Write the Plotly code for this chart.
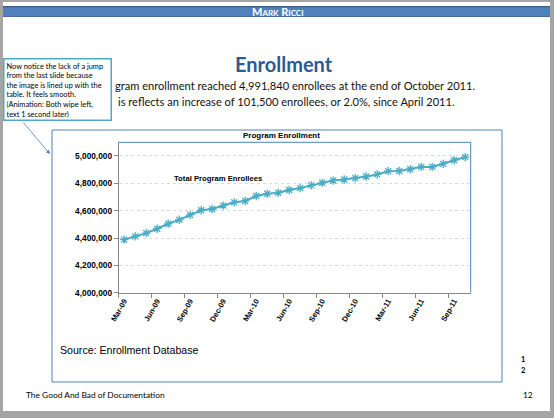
import plotly.graph_objects as go

# slide size in pixels
W, H = 554, 418


def px(x):
    return x / W


def py(y):
    return 1 - y / H


# monthly enrollment, Mar-09 .. Oct-11
months = [
    "Mar-09", "Apr-09", "May-09", "Jun-09", "Jul-09", "Aug-09", "Sep-09", "Oct-09",
    "Nov-09", "Dec-09", "Jan-10", "Feb-10", "Mar-10", "Apr-10", "May-10", "Jun-10",
    "Jul-10", "Aug-10", "Sep-10", "Oct-10", "Nov-10", "Dec-10", "Jan-11", "Feb-11",
    "Mar-11", "Apr-11", "May-11", "Jun-11", "Jul-11", "Aug-11", "Sep-11", "Oct-11",
]
enrollees = [
    4388000, 4412000, 4436000, 4468000, 4504000, 4533000, 4569000, 4603000,
    4612000, 4637000, 4661000, 4671000, 4707000, 4724000, 4731000, 4751000,
    4765000, 4785000, 4804000, 4821000, 4828000, 4838000, 4850000, 4865000,
    4889000, 4890340, 4903000, 4920000, 4920000, 4942000, 4969000, 4991840,
]
y_ticks = [4000000, 4200000, 4400000, 4600000, 4800000, 5000000]

note_lines = [
    "Now notice the lack of a jump",
    "from the last slide because",
    "the image is lined up with the",
    "table. It feels smooth.",
    "(Animation: Both wipe left,",
    "text 1 second later)",
]

teal = "#4bacc6"
blue = "#4f81bd"
axis_gray = "#868686"

fig = go.Figure()
fig.add_trace(go.Scatter(
    x=months, y=enrollees,
    mode="lines+markers",
    line=dict(color=teal, width=2),
    marker=dict(symbol="asterisk-open", size=7, color=teal,
                line=dict(color=teal, width=1.3)),
    name="Total Program Enrollees",
    showlegend=False,
))

# plot area in slide pixels
x0, x1 = 118.7, 470.7
y0, y1 = 142.3, 292.7

shapes = [
    # white slide on the gray window
    dict(type="rect", xref="paper", yref="paper", x0=px(3), x1=px(550),
         y0=py(411), y1=py(2), fillcolor="white", line=dict(width=0), layer="below"),
    # header bar
    dict(type="rect", xref="paper", yref="paper", x0=px(3), x1=px(550),
         y0=py(16.8), y1=py(6), fillcolor="#4f81bd", line=dict(width=0), layer="below"),
    dict(type="rect", xref="paper", yref="paper", x0=px(3), x1=px(550),
         y0=py(7.3), y1=py(6), fillcolor="#385d8a", line=dict(width=0), layer="below"),
    dict(type="rect", xref="paper", yref="paper", x0=px(3), x1=px(550),
         y0=py(16.8), y1=py(16), fillcolor="#385d8a", line=dict(width=0), layer="below"),
    # chart frame
    dict(type="rect", xref="paper", yref="paper", x0=px(52), x1=px(502),
         y0=py(382), y1=py(130), fillcolor="white", line=dict(color=blue, width=1),
         layer="below"),
    # plot area top and right edges
    dict(type="line", xref="paper", yref="paper", x0=px(x0), x1=px(x1),
         y0=py(y0), y1=py(y0), line=dict(color=blue, width=1)),
    dict(type="line", xref="paper", yref="paper", x0=px(x1), x1=px(x1),
         y0=py(y0), y1=py(y1), line=dict(color=blue, width=1)),
]


def label(text, x, y, size, family="Lato", xanchor="center", **font):
    return dict(text=text, x=px(x), y=py(y), xref="paper", yref="paper",
                xanchor=xanchor, yanchor="middle", showarrow=False,
                font=dict(family=family, size=size, **font))


annotations = [
    label("Mark Ricci", 278, 11.6, 11, color="white", weight="bold",
          variant="small-caps"),
    label("Enrollment", 284, 64, 20, color="#2b5b94", weight="bold"),
    # the start of both lines is hidden behind the callout
    label("gram enrollment reached 4,991,840 enrollees at the end of October 2011.",
          113, 86, 11.1, xanchor="left", color="#111111"),
    label("is reflects an increase of 101,500 enrollees, or 2.0%, since April 2011.",
          116, 101, 11.1, xanchor="left", color="#111111"),
    # callout pointer
    dict(text="", x=px(50), y=py(154), xref="paper", yref="paper",
         ax=-28, ay=-33, showarrow=True, arrowhead=2, arrowsize=1,
         arrowwidth=0.8, arrowcolor=blue),
    # speaker note callout
    dict(text="<br>".join(note_lines), x=px(3), y=py(58), xref="paper", yref="paper",
         xanchor="left", yanchor="top", align="left", valign="top",
         width=102, height=56, borderpad=2, borderwidth=1.5,
         bordercolor=teal, bgcolor="white", showarrow=False,
         font=dict(family="Lato", size=7.4, color="black")),
    label("Program Enrollment", 281, 135, 8, family="Liberation Sans",
          color="black", weight="bold"),
    label("Total Program Enrollees", 172, 179, 7.7, family="Liberation Sans",
          xanchor="left", color="black", weight="bold"),
    label("Source: Enrollment Database", 58, 350, 10.6, family="Liberation Sans",
          xanchor="left", color="black"),
    label("1", 523, 359, 7.5, color="black", weight="bold"),
    label("2", 523, 370, 7.5, color="black", weight="bold"),
    label("The Good And Bad of Documentation", 24, 395, 8.4, xanchor="left",
          color="black"),
    label("12", 528, 395, 8.4, color="black"),
]

fig.update_layout(
    width=W, height=H,
    margin=dict(l=0, r=0, t=0, b=0, pad=0, autoexpand=False),
    paper_bgcolor="#a5a5a5",
    plot_bgcolor="white",
    shapes=shapes,
    annotations=annotations,
    xaxis=dict(
        domain=[px(x0), px(x1)],
        type="category",
        range=[-0.5, len(months) - 0.5],
        tickmode="linear", tick0=0, dtick=3,
        tickson="boundaries",
        ticks="outside", ticklen=4, tickcolor=axis_gray,
        tickangle=-60,
        tickfont=dict(family="Liberation Sans", size=7.6, color="black", weight="bold"),
        showline=True, linecolor=axis_gray, linewidth=1,
        showgrid=False, zeroline=False, automargin=False,
    ),
    yaxis=dict(
        domain=[py(y1), py(y0)],
        range=[4000000, 5100000],
        tickvals=y_ticks,
        tickformat=",d",
        ticks="outside", ticklen=4, tickcolor=axis_gray,
        tickfont=dict(family="Liberation Sans", size=8.3, color="black", weight="bold"),
        showline=True, linecolor=axis_gray, linewidth=1,
        showgrid=True, gridcolor="#d5dbee", griddash="dot", gridwidth=1,
        zeroline=False, automargin=False,
    ),
)

fig.write_html("out.html", config={"displayModeBar": False},
               post_script="document.body.style.margin='0';")
